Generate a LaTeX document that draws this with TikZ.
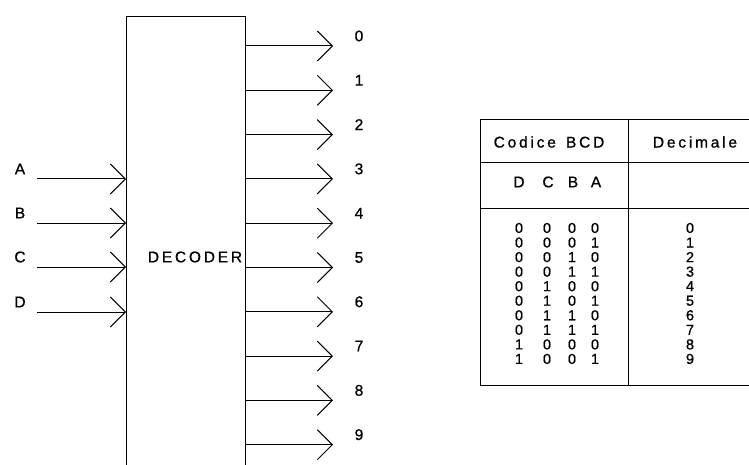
\documentclass[tikz,border=0pt]{standalone}
\usepackage{fontspec}
\setmainfont{Liberation Sans}[LetterSpace=18,FakeBold=0.8]
\usetikzlibrary{arrows.meta}
\begin{document}
\begin{tikzpicture}[x=1pt,y=-1pt,line width=1pt,
  every node/.style={font=\fontsize{15.5}{15.5}\selectfont,inner sep=0pt},
  digit/.style={font=\fontsize{14.5}{14.5}\selectfont},
  arr/.style={-{Straight Barb[length=15pt,width=30pt]}},
  lbl/.style={anchor=center}]
\useasboundingbox (0,0) rectangle (749,465);
\clip (0,0) rectangle (749,465);
% decoder box
\node[draw,minimum width=119pt,minimum height=520pt,anchor=north west] (dec) at (126,16) {};
\node (dectext) at (195,257) {DECODER};
% inputs
\foreach \n/\y in {A/179,B/223,C/267,D/312}{
  \coordinate (in\n) at (37,\y);
  \node[lbl] (l\n) at (20,\y-10) {\n};
  \draw[arr] (in\n) -- (in\n -| dec.west);
}
% outputs
\foreach \i in {0,...,9}{
  \coordinate (o\i) at (333,{46+44.3*\i});
  \draw[arr] (o\i -| dec.east) -- (o\i);
  \node[lbl] (ol\i) at (359,{36+44.3*\i}) {\i};
}
% table
\draw (780,120) -- (480,120) -- (480,385) -- (780,385);
\draw (480,163) -- (780,163);
\draw (480,208) -- (780,208);
\draw (628,120) -- (628,385);
\node (h1) at (549,142) {Codice\hspace{3pt} BCD};
\node (h2) at (695,142) {Decimale};
\foreach \l/\x in {D/518,C/547,B/572,A/595}{
  \node (hd\l) at (\x+1,182) {\l};
}
\foreach \d/\c/\b/\a [count=\k from 0] in {0/0/0/0,0/0/0/1,0/0/1/0,0/0/1/1,0/1/0/0,0/1/0/1,0/1/1/0,0/1/1/1,1/0/0/0,1/0/0/1}{
  \node[digit] (r\k d) at (519,{228+14.55*\k}) {\d};
  \node[digit] (r\k c) at (547,{228+14.55*\k}) {\c};
  \node[digit] (r\k b) at (572,{228+14.55*\k}) {\b};
  \node[digit] (r\k a) at (595,{228+14.55*\k}) {\a};
  \node[digit] (r\k n) at (690,{228+14.55*\k}) {\k};
}
\end{tikzpicture}
\end{document}
